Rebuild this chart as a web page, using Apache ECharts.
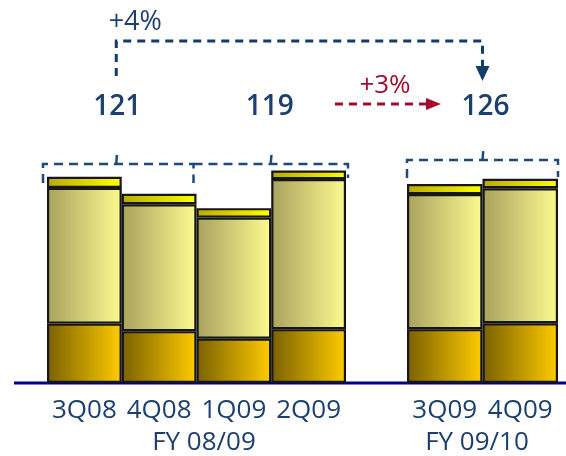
<!DOCTYPE html>
<html><head><meta charset="utf-8">
<script src="https://cdn.jsdelivr.net/npm/echarts@6/dist/echarts.min.js"></script>
<style>html,body{margin:0;padding:0;background:#fff}#c{width:566px;height:456px}</style>
</head><body><div id="c"></div>
<script>
// ---- data ----
const catsA = ['3Q08', '4Q08', '1Q09', '2Q09'];
const catsB = ['3Q09', '4Q09'];
const yearA = 'FY 08/09';
const yearB = 'FY 09/10';
const baseA = [18.2, 15.9, 13.6, 16.5];
const midA  = [41.6, 38.9, 37.1, 46.0];
const topA  = [3.4, 3.2, 2.9, 2.6];
const baseB = [16.5, 18.3];
const midB  = [41.4, 41.4];
const topB  = [3.1, 2.9];
const halfTotals = ['121', '119', '126'];
const growthLong = '+4%';
const growthShort = '+3%';

// ---- styles ----
const NAVY = '#1b3f6e';
const RED = '#a30d2d';
const FONT = '"Open Sans", "Liberation Sans", sans-serif';
const grad = (a, b) => new echarts.graphic.LinearGradient(0, 0, 1, 0, [{offset: 0, color: a}, {offset: 1, color: b}]);
const segStyles = [
  grad('#7a6000', '#ffcc00'),
  grad('#a8a25e', '#fcfb90'),
  grad('#b8aa00', '#ffff00')
];

const chart = echarts.init(document.getElementById('c'), null, {renderer: 'canvas'});

function mkSeries(vals, gi, stack, k) {
  return {
    type: 'bar', stack: stack, xAxisIndex: gi, yAxisIndex: gi,
    data: vals, barCategoryGap: '0%', barGap: '0%',
    itemStyle: {color: segStyles[k], borderColor: '#161616', borderWidth: 2.2},
    emphasis: {disabled: true}, z: 3
  };
}

const xCommon = {
  type: 'category', axisLine: {show: false}, axisTick: {show: false},
  axisLabel: {fontSize: 26, color: NAVY, fontFamily: FONT, margin: 15, interval: 0},
  nameLocation: 'middle', nameGap: 47, nameMoveOverlap: false,
  nameTextStyle: {fontSize: 26, color: NAVY, fontFamily: FONT}
};

chart.setOption({
  animation: false,
  grid: [
    {left: 47, width: 299, top: 122, height: 261, outerBoundsMode: 'none', containLabel: false},
    {left: 407, width: 151, top: 122, height: 261, outerBoundsMode: 'none', containLabel: false}
  ],
  xAxis: [
    Object.assign({}, xCommon, {gridIndex: 0, data: catsA, name: yearA,
      nameTextStyle: Object.assign({}, xCommon.nameTextStyle, {padding: [0, 0, 0, 15]})}),
    Object.assign({}, xCommon, {gridIndex: 1, data: catsB, name: yearB,
      nameTextStyle: Object.assign({}, xCommon.nameTextStyle, {padding: [0, 11, 0, 0]})})
  ],
  yAxis: [
    {type: 'value', gridIndex: 0, min: 0, max: 80, show: false},
    {type: 'value', gridIndex: 1, min: 0, max: 80, show: false}
  ],
  series: [
    mkSeries(baseA, 0, 'a', 0), mkSeries(midA, 0, 'a', 1), mkSeries(topA, 0, 'a', 2),
    mkSeries(baseB, 1, 'b', 0), mkSeries(midB, 1, 'b', 1), mkSeries(topB, 1, 'b', 2)
  ]
});

// ---- annotations positioned from the axes ----
const P = (g, i, v) => chart.convertToPixel({xAxisIndex: g, yAxisIndex: g}, [i, v]);
const bwA = P(0, 1, 0)[0] - P(0, 0, 0)[0];
const bwB = P(1, 1, 0)[0] - P(1, 0, 0)[0];
const y0 = P(0, 0, 0)[1];
const leftEdge = (g, i, bw) => P(g, i, 0)[0] - bw / 2;
const rightEdge = (g, i, bw) => P(g, i, 0)[0] + bw / 2;

const dashLine = (pts, color, w, dash) => ({
  type: 'polyline', z: 100, shape: {points: pts},
  style: {stroke: color, lineWidth: w, lineDash: dash, fill: null}
});
const tri = (pts, color) => ({type: 'polygon', z: 100, shape: {points: pts}, style: {fill: color}});
const txt = (s, x, y, size, color, weight) => ({
  type: 'text', z: 100, x: x, y: y,
  style: {text: s, fill: color, font: (weight || 'normal') + ' ' + size + 'px ' + FONT,
    textAlign: 'center', textVerticalAlign: 'middle', align: 'center', verticalAlign: 'middle'}
});

const aL = leftEdge(0, 0, bwA) - 4, aR = rightEdge(0, 1, bwA) - 3;
const bL = aR, bR = rightEdge(0, 3, bwA) + 2;
const cL = leftEdge(1, 0, bwB), cR = rightEdge(1, 1, bwB);
const aM = (aL + aR) / 2 - 2, bM = (bL + bR) / 2, cM = (cL + cR) / 2;

const elements = [
  {type: 'line', z: 0, shape: {x1: 14, y1: y0, x2: 566, y2: y0}, style: {stroke: '#000080', lineWidth: 3}},
  // half-year brackets
  dashLine([[aL, 183], [aL, 164], [aR, 164], [aR, 183]], '#1e4a78', 2.5, [9, 6]),
  dashLine([[aM, 164], [aM + 1, 150]], '#1e4a78', 2.5, [9, 6]),
  dashLine([[bL, 164], [bR, 164], [bR, 178]], '#1e4a78', 2.5, [9, 6]),
  dashLine([[bM, 164], [bM + 1, 150]], '#1e4a78', 2.5, [9, 6]),
  dashLine([[cL, 178], [cL, 160], [cR, 160], [cR, 177]], '#1e4a78', 2.5, [9, 6]),
  dashLine([[cM, 160], [cM + 1, 148]], '#1e4a78', 2.5, [9, 6]),
  // totals
  txt(halfTotals[0], aM + 1, 107, 28, NAVY, '600'),
  txt(halfTotals[1], bM - 1, 107, 28, NAVY, '600'),
  txt(halfTotals[2], cM + 3, 107, 28, NAVY, '600'),
  // long comparison arrow
  dashLine([[aM, 76], [aM, 41], [cM, 41], [cM, 66]], '#123d6a', 3, [8, 6]),
  tri([[cM - 7, 66], [cM + 7, 66], [cM, 81]], '#123d6a'),
  txt(growthLong, aM + 19, 22, 27, NAVY, 'normal'),
  // short comparison arrow
  dashLine([[335, 104], [426, 104]], RED, 3, [8, 6]),
  tri([[426, 98], [426, 110], [441, 104]], RED),
  txt(growthShort, 385, 86, 26, RED, 'normal')
];
chart.setOption({graphic: {elements: elements}});
</script></body></html>
